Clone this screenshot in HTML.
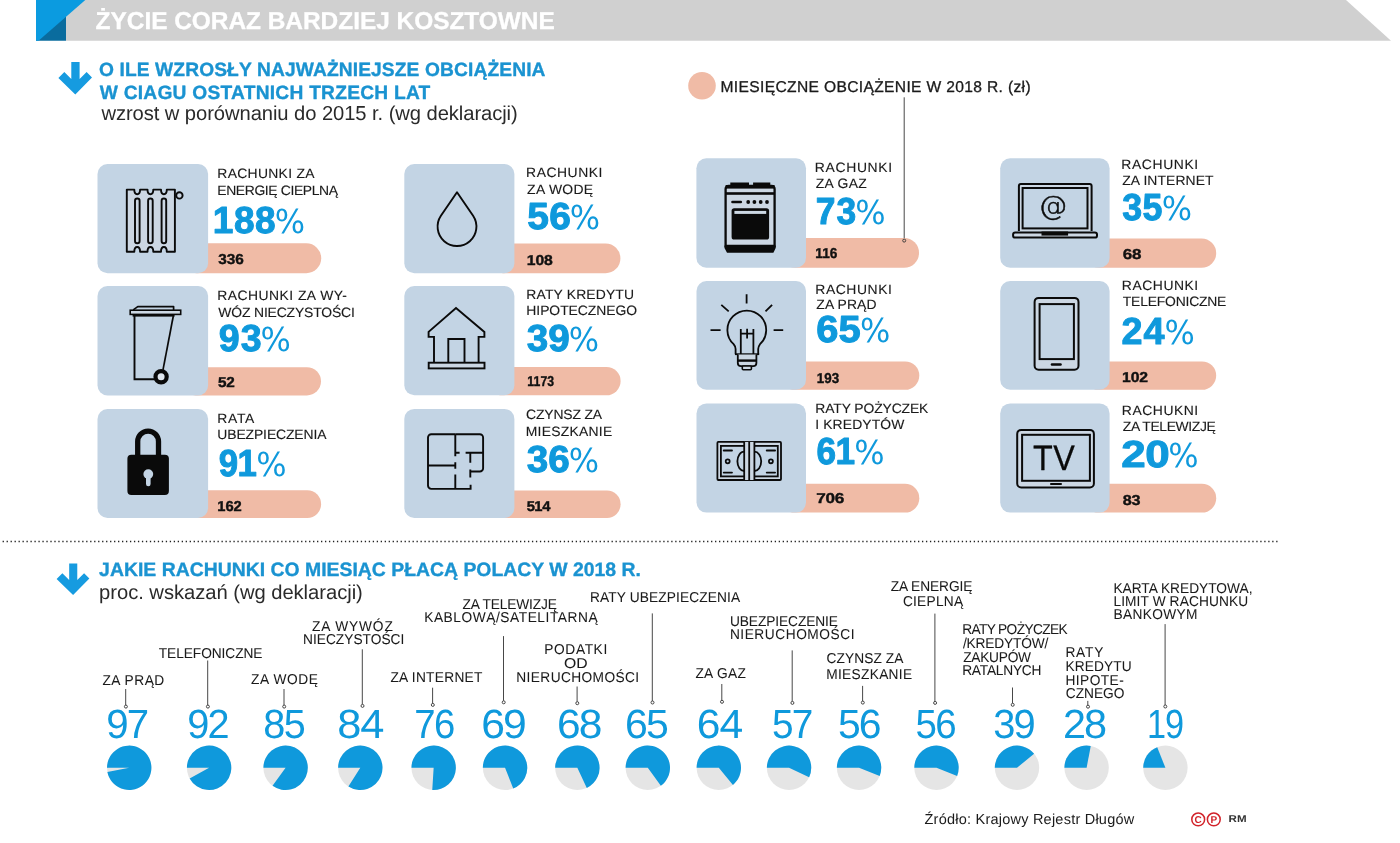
<!DOCTYPE html>
<html lang="pl"><head><meta charset="utf-8"><title>Życie coraz bardziej kosztowne</title>
<style>
html,body{margin:0;padding:0;background:#fff;}
body{width:1400px;height:843px;overflow:hidden;}
svg{display:block;}
svg text{font-family:'Liberation Sans', Arial, sans-serif;text-rendering:geometricPrecision;}
</style></head><body>
<svg width="1400" height="843" viewBox="0 0 1400 843">
<polygon points="66,0 1346,0 1391,40.8 66,40.8" fill="#d0d0d0"/>
<polygon points="66,14 66,40.8 36,40.8 36,30" fill="#0a6c9e"/>
<polygon points="36,0 85.3,0 38.5,40.8 36,40.8" fill="#0b9be0"/>
<polygon points="71.30,62.00 79.60,62.00 79.60,79.00 86.60,72.00 92.00,77.60 75.30,94.40 58.40,78.00 64.30,72.00 71.30,79.00" fill="#169be0"/>
<polygon points="69.18,563.40 77.27,563.40 77.27,579.98 84.09,573.15 89.36,578.61 73.08,594.99 56.60,579.00 62.35,573.15 69.18,579.98" fill="#169be0"/>
<circle cx="702" cy="85.7" r="13.8" fill="#f0bba6"/>
<line x1="904.2" y1="97.3" x2="904.2" y2="239.2" stroke="#333" stroke-width="0.9"/>
<rect x="181.5" y="243.3" width="139.7" height="29.9" rx="14.9" fill="#f0bba6"/>
<rect x="97.5" y="164.0" width="110.6" height="109.2" rx="10" fill="#c3d4e4"/>
<path d="M126.8,189.6 H134.3 Q134.3,194.3 137.2,194.3 Q140.1,194.3 140.1,189.6 H147.5 Q147.5,194.3 150.4,194.3 Q153.3,194.3 153.3,189.6 H161.0 Q161.0,194.3 163.9,194.3 Q166.8,194.3 166.8,189.6 H174.9 V251.7 H166.8 Q166.8,247.0 163.9,247.0 Q161.0,247.0 161.0,251.7 H153.3 Q153.3,247.0 150.4,247.0 Q147.5,247.0 147.5,251.7 H140.1 Q140.1,247.0 137.2,247.0 Q134.3,247.0 134.3,251.7 H126.8 Z" fill="#ccd7e3" stroke="#0a0a0a" stroke-width="1.9" stroke-linejoin="round"/><rect x="135.0" y="198.5" width="4.6" height="44.7" rx="2.3" fill="#ccd7e3" stroke="#0a0a0a" stroke-width="1.9"/><rect x="148.1" y="198.5" width="4.6" height="44.7" rx="2.3" fill="#ccd7e3" stroke="#0a0a0a" stroke-width="1.9"/><rect x="161.6" y="198.5" width="4.6" height="44.7" rx="2.3" fill="#ccd7e3" stroke="#0a0a0a" stroke-width="1.9"/><circle cx="179.4" cy="195.4" r="3.2" fill="#ccd7e3" stroke="#0a0a0a" stroke-width="1.9"/>
<rect x="488.3" y="243.5" width="132.1" height="29.7" rx="14.8" fill="#f0bba6"/>
<rect x="404.3" y="164.0" width="110.1" height="109.2" rx="10" fill="#c3d4e4"/>
<path d="M457,192.2 L473.1,215.8 A19.4,19.4 0 1 1 440.9,215.8 Z" fill="none" stroke="#0a0a0a" stroke-width="1.9" stroke-linejoin="round"/>
<rect x="181.5" y="367.2" width="139.5" height="28.2" rx="14.1" fill="#f0bba6"/>
<rect x="97.5" y="286.0" width="110.6" height="109.4" rx="10" fill="#c3d4e4"/>
<path d="M133.2,309.9 L137.8,306.6 H173.6 V309.9" fill="none" stroke="#0a0a0a" stroke-width="1.7" stroke-linejoin="round"/><rect x="130.2" y="310.2" width="50.5" height="4.2" fill="#ccd7e3" stroke="#0a0a0a" stroke-width="1.6"/><rect x="132.6" y="314.2" width="42" height="2.4" fill="#0a0a0a"/><path d="M134.5,316 V379.3 H154.5" fill="none" stroke="#0a0a0a" stroke-width="1.9"/><path d="M173.3,316 L163.0,369.8" fill="none" stroke="#0a0a0a" stroke-width="1.7"/><circle cx="161.1" cy="376.8" r="5.6" fill="#dfe6ee" stroke="#0a0a0a" stroke-width="4.2"/>
<rect x="488.3" y="366.9" width="132.3" height="28.4" rx="14.2" fill="#f0bba6"/>
<rect x="404.3" y="286.1" width="110.1" height="109.2" rx="10" fill="#c3d4e4"/>
<path d="M434.0,362.5 V336.9 H428.6 V331.9 L456,308.0 L484.4,331.9 V336.9 H478.6 V362.5" fill="none" stroke="#0a0a0a" stroke-width="1.9" stroke-linejoin="miter"/><rect x="428.7" y="362.7" width="55.8" height="5.7" fill="#ccd7e3" stroke="#0a0a0a" stroke-width="1.9"/><path d="M448.3,362.5 V339.0 H464.5 V362.5" fill="none" stroke="#0a0a0a" stroke-width="1.9"/>
<rect x="181.5" y="490.3" width="139.6" height="27.7" rx="13.8" fill="#f0bba6"/>
<rect x="97.5" y="409.0" width="110.6" height="109.0" rx="10" fill="#c3d4e4"/>
<path d="M137.7,455 V441.5 A10.4,10.4 0 0 1 158.5,441.5 V455" fill="none" stroke="#0a0a0a" stroke-width="5.3"/><rect x="127.4" y="454.7" width="41.5" height="40.3" rx="4" fill="#0a0a0a"/><circle cx="148.3" cy="474.1" r="4.9" fill="#c3d4e4"/><rect x="146.0" y="474" width="4.6" height="12.3" rx="2.2" fill="#c3d4e4"/>
<rect x="488.3" y="490.6" width="132.3" height="27.3" rx="13.6" fill="#f0bba6"/>
<rect x="404.3" y="408.9" width="110.1" height="109.0" rx="10" fill="#c3d4e4"/>
<path d="M455.3,434.2 H479.8 A3.3,3.3 0 0 1 483.1,437.5 V468.2 A3.3,3.3 0 0 1 479.8,471.5 H470.3" fill="none" stroke="#0a0a0a" stroke-width="1.9"/><path d="M455.3,434.2 H431.3 A3.3,3.3 0 0 0 428.0,437.5 V485.6 A3.3,3.3 0 0 0 431.3,488.9 H470.6 V484.8" fill="none" stroke="#0a0a0a" stroke-width="1.9"/><path d="M455.3,434.2 V456.2 M455.3,462.2 V468.8 M455.3,474.4 V488.9 M428,465.5 H455.3 M455.3,452.8 H459.6 M465.6,452.8 H483 M470.3,452.8 V462.8 M470.3,469.6 V477.5" fill="none" stroke="#0a0a0a" stroke-width="1.9"/>
<rect x="780.4" y="238.0" width="138.6" height="29.8" rx="14.9" fill="#f0bba6"/>
<rect x="696.4" y="158.3" width="109.6" height="109.5" rx="10" fill="#c3d4e4"/>
<path d="M731.1,185.6 V183.4 H748.2 V185.6 M753.9,185.6 V183.4 H769.5 V185.6" fill="#0a0a0a" stroke="#0a0a0a" stroke-width="1.6"/><rect x="731.1" y="183.0" width="17.1" height="3" fill="#0a0a0a"/><rect x="753.9" y="183.0" width="15.6" height="3" fill="#0a0a0a"/><path d="M725.6,189.0 A3,3 0 0 1 728.6,186.0 H771.6 A3,3 0 0 1 774.6,189.0 V246 H725.6 Z" fill="#ccd7e3" stroke="#0a0a0a" stroke-width="2.3"/><rect x="725.6" y="185.0" width="49" height="3.6" fill="#0a0a0a"/><rect x="725.6" y="192.2" width="49" height="2.6" fill="#0a0a0a"/><path d="M724.5,245.5 H775.7 V248 L773.4,252.8 H727.0 L724.5,248 Z" fill="#0a0a0a"/><line x1="732.5" y1="202" x2="740.8" y2="202" stroke="#0a0a0a" stroke-width="2.6" stroke-linecap="round"/><circle cx="748.2" cy="202" r="1.9" fill="#0a0a0a"/><circle cx="754.4" cy="202" r="1.9" fill="#0a0a0a"/><circle cx="760.7" cy="202" r="1.9" fill="#0a0a0a"/><circle cx="767.0" cy="202" r="1.9" fill="#0a0a0a"/><rect x="731.6" y="208.2" width="37.5" height="31.3" rx="2.6" fill="#0a0a0a"/><rect x="734.4" y="210.9" width="31.8" height="3.0" fill="#ccd7e3"/>
<rect x="1084.2" y="238.4" width="132.0" height="29.4" rx="14.7" fill="#f0bba6"/>
<rect x="1000.2" y="158.2" width="109.4" height="109.6" rx="10" fill="#c3d4e4"/>
<path d="M1018.9,231 V185.9 A2,2 0 0 1 1020.9,183.9 H1089.6 A2,2 0 0 1 1091.6,185.9 V231" fill="#ccd7e3" stroke="#0a0a0a" stroke-width="2"/><rect x="1022.6" y="188.0" width="64.9" height="40.4" fill="#c3d4e4" stroke="#0a0a0a" stroke-width="2"/><rect x="1013.1" y="232.4" width="83.9" height="5.2" rx="2.2" fill="#ccd7e3" stroke="#0a0a0a" stroke-width="2"/><rect x="1041.5" y="231.5" width="26.6" height="4.1" fill="#0a0a0a"/>
<rect x="780.5" y="361.4" width="138.8" height="28.4" rx="14.2" fill="#f0bba6"/>
<rect x="696.5" y="281.1" width="109.5" height="108.7" rx="10" fill="#c3d4e4"/>
<path d="M746.6,294.2 V303.6 M721.3,304.9 L728.7,311.4 M772.1,304.9 L765.5,311.4 M710.5,330.2 H720.6 M773.6,330.2 H783.2" stroke="#0a0a0a" stroke-width="1.8" fill="none"/><path d="M735.6,354.2 V349.0 Q735.6,346.6 733.6,344.2 A19.4,19.4 0 1 1 760.0,344.2 Q758.2,346.6 758.2,349.0 V354.2" fill="none" stroke="#0a0a0a" stroke-width="1.8"/><path d="M740.8,354 V329 M753.4,354 V329 M740.8,333.6 H753.4 M747.1,328.8 V338.4" stroke="#0a0a0a" stroke-width="1.8" fill="none"/><path d="M735.0,354.2 H759.2" stroke="#0a0a0a" stroke-width="1.8"/><path d="M737.8,354.5 V363 Q737.8,366.2 741,366.2 H753.2 Q756.4,366.2 756.4,363 V354.5" fill="#ccd7e3" stroke="#0a0a0a" stroke-width="1.8"/><rect x="737.8" y="359.4" width="18.6" height="2.4" fill="#0a0a0a"/><rect x="742.3" y="366" width="9.1" height="3.7" rx="1" fill="#ccd7e3" stroke="#0a0a0a" stroke-width="1.6"/>
<rect x="1084.2" y="361.4" width="132.0" height="28.4" rx="14.2" fill="#f0bba6"/>
<rect x="1000.2" y="281.1" width="109.4" height="108.7" rx="10" fill="#c3d4e4"/>
<rect x="1034.6" y="297.9" width="43.9" height="71.8" rx="4" fill="#ccd7e3" stroke="#0a0a0a" stroke-width="2"/><rect x="1039.6" y="304.1" width="34.3" height="55.0" fill="#c3d4e4" stroke="#0a0a0a" stroke-width="2"/><rect x="1050.7" y="363.3" width="11.1" height="2.5" rx="1.25" fill="#0a0a0a"/>
<rect x="780.5" y="483.8" width="138.8" height="28.8" rx="14.4" fill="#f0bba6"/>
<rect x="696.5" y="403.4" width="109.5" height="109.2" rx="10" fill="#c3d4e4"/>
<rect x="717.4" y="441.9" width="63.6" height="38.1" rx="1" fill="#ccd7e3" stroke="#0a0a0a" stroke-width="1.8"/><rect x="720.9" y="445.9" width="56.9" height="30.5" fill="#c3d4e4" stroke="#0a0a0a" stroke-width="1.8"/><rect x="744.2" y="441.9" width="10.2" height="38.1" fill="#ccd7e3" stroke="none"/><path d="M744.2,441.9 V480 M749.2,441.9 V480 M754.4,441.9 V480" stroke="#0a0a0a" stroke-width="1.8"/><path d="M744.2,451.6 A6.8,9.7 0 0 0 744.2,471 M754.4,451.6 A6.8,9.7 0 0 1 754.4,471" fill="none" stroke="#0a0a0a" stroke-width="1.8"/><circle cx="727.7" cy="461.3" r="2.0" fill="none" stroke="#0a0a0a" stroke-width="1.7"/><circle cx="770.9" cy="461.3" r="2.0" fill="none" stroke="#0a0a0a" stroke-width="1.7"/><path d="M723.7,450.5 H732.0 M723.7,472.6 H732.0 M766.7,450.5 H775.1 M766.7,472.6 H775.1" stroke="#0a0a0a" stroke-width="1.8" stroke-linecap="round"/>
<rect x="1084.2" y="483.8" width="132.0" height="28.8" rx="14.4" fill="#f0bba6"/>
<rect x="1000.2" y="403.4" width="109.4" height="109.2" rx="10" fill="#c3d4e4"/>
<rect x="1017.2" y="429.9" width="76.7" height="57.6" rx="4" fill="#ccd7e3" stroke="#0a0a0a" stroke-width="2"/><rect x="1022.1" y="434.8" width="67.8" height="46.0" fill="#c3d4e4" stroke="#0a0a0a" stroke-width="2"/><rect x="1050" y="483.1" width="12" height="1.8" rx="0.9" fill="#0a0a0a"/>
<circle cx="904.2" cy="240.6" r="1.5" fill="#f0bba6" stroke="#333" stroke-width="0.9"/>
<line x1="2.6" y1="541.5" x2="1279" y2="541.5" stroke="#222" stroke-width="1.3" stroke-dasharray="1.3 2.68"/>
<line x1="125.7" y1="689.0" x2="125.7" y2="705.1" stroke="#333" stroke-width="0.9"/>
<circle cx="125.9" cy="706.6" r="1.5" fill="#fff" stroke="#333" stroke-width="0.9"/>
<circle cx="129.2" cy="767.8" r="22.2" fill="#e5e5e5"/><path d="M129.2,767.8 L107.00,767.80 A22.2,22.2 0 1 1 107.39,771.96 Z" fill="#0f99dc"/>
<line x1="207.7" y1="660.5" x2="207.7" y2="705.1" stroke="#333" stroke-width="0.9"/>
<circle cx="207.9" cy="706.6" r="1.5" fill="#fff" stroke="#333" stroke-width="0.9"/>
<circle cx="209.1" cy="767.8" r="22.2" fill="#e5e5e5"/><path d="M209.1,767.8 L186.90,767.80 A22.2,22.2 0 1 1 189.65,778.49 Z" fill="#0f99dc"/>
<line x1="284.0" y1="689.0" x2="284.0" y2="705.1" stroke="#333" stroke-width="0.9"/>
<circle cx="284.2" cy="706.6" r="1.5" fill="#fff" stroke="#333" stroke-width="0.9"/>
<circle cx="285.6" cy="767.8" r="22.2" fill="#e5e5e5"/><path d="M285.6,767.8 L263.40,767.80 A22.2,22.2 0 1 1 272.55,785.76 Z" fill="#0f99dc"/>
<line x1="362.3" y1="649.3" x2="362.3" y2="704.4" stroke="#333" stroke-width="0.9"/>
<circle cx="362.5" cy="705.9" r="1.5" fill="#fff" stroke="#333" stroke-width="0.9"/>
<circle cx="360.3" cy="767.8" r="22.2" fill="#e5e5e5"/><path d="M360.3,767.8 L338.10,767.80 A22.2,22.2 0 1 1 348.40,786.54 Z" fill="#0f99dc"/>
<line x1="432.6" y1="687.7" x2="432.6" y2="703.4" stroke="#333" stroke-width="0.9"/>
<circle cx="432.8" cy="704.9" r="1.5" fill="#fff" stroke="#333" stroke-width="0.9"/>
<circle cx="433.65" cy="767.8" r="22.2" fill="#e5e5e5"/><path d="M433.65,767.8 L411.45,767.80 A22.2,22.2 0 1 1 432.26,789.96 Z" fill="#0f99dc"/>
<line x1="503.5" y1="636.1" x2="503.5" y2="700.8" stroke="#333" stroke-width="0.9"/>
<circle cx="503.7" cy="702.3" r="1.5" fill="#fff" stroke="#333" stroke-width="0.9"/>
<circle cx="505.05" cy="767.8" r="22.2" fill="#e5e5e5"/><path d="M505.05,767.8 L482.85,767.80 A22.2,22.2 0 1 1 513.22,788.44 Z" fill="#0f99dc"/>
<line x1="577.1" y1="686.5" x2="577.1" y2="701.7" stroke="#333" stroke-width="0.9"/>
<circle cx="577.3" cy="703.2" r="1.5" fill="#fff" stroke="#333" stroke-width="0.9"/>
<circle cx="577.35" cy="767.8" r="22.2" fill="#e5e5e5"/><path d="M577.35,767.8 L555.15,767.80 A22.2,22.2 0 1 1 586.80,787.89 Z" fill="#0f99dc"/>
<line x1="652.3" y1="613.4" x2="652.3" y2="701.0" stroke="#333" stroke-width="0.9"/>
<circle cx="652.5" cy="702.5" r="1.5" fill="#fff" stroke="#333" stroke-width="0.9"/>
<circle cx="647.8" cy="767.8" r="22.2" fill="#e5e5e5"/><path d="M647.8,767.8 L625.60,767.80 A22.2,22.2 0 1 1 660.85,785.76 Z" fill="#0f99dc"/>
<line x1="721.8" y1="684.0" x2="721.8" y2="700.3" stroke="#333" stroke-width="0.9"/>
<circle cx="722.0" cy="701.8" r="1.5" fill="#fff" stroke="#333" stroke-width="0.9"/>
<circle cx="718.8" cy="767.8" r="22.2" fill="#e5e5e5"/><path d="M718.8,767.8 L696.60,767.80 A22.2,22.2 0 1 1 732.95,784.91 Z" fill="#0f99dc"/>
<line x1="792.2" y1="650.4" x2="792.2" y2="701.4" stroke="#333" stroke-width="0.9"/>
<circle cx="792.4" cy="702.9" r="1.5" fill="#fff" stroke="#333" stroke-width="0.9"/>
<circle cx="789.05" cy="767.8" r="22.2" fill="#e5e5e5"/><path d="M789.05,767.8 L766.85,767.80 A22.2,22.2 0 1 1 809.14,777.25 Z" fill="#0f99dc"/>
<line x1="862.6" y1="685.9" x2="862.6" y2="701.1" stroke="#333" stroke-width="0.9"/>
<circle cx="862.8" cy="702.6" r="1.5" fill="#fff" stroke="#333" stroke-width="0.9"/>
<circle cx="859.05" cy="767.8" r="22.2" fill="#e5e5e5"/><path d="M859.05,767.8 L836.85,767.80 A22.2,22.2 0 1 1 879.69,775.97 Z" fill="#0f99dc"/>
<line x1="934.9" y1="613.6" x2="934.9" y2="701.4" stroke="#333" stroke-width="0.9"/>
<circle cx="935.1" cy="702.9" r="1.5" fill="#fff" stroke="#333" stroke-width="0.9"/>
<circle cx="936.5" cy="767.8" r="22.2" fill="#e5e5e5"/><path d="M936.5,767.8 L914.30,767.80 A22.2,22.2 0 1 1 957.14,775.97 Z" fill="#0f99dc"/>
<line x1="1012.5" y1="687.5" x2="1012.5" y2="703.3" stroke="#333" stroke-width="0.9"/>
<circle cx="1012.7" cy="704.8" r="1.5" fill="#fff" stroke="#333" stroke-width="0.9"/>
<circle cx="1017.0" cy="767.8" r="22.2" fill="#e5e5e5"/><path d="M1017.0,767.8 L994.80,767.80 A22.2,22.2 0 0 1 1034.11,753.65 Z" fill="#0f99dc"/>
<line x1="1087.8" y1="700.9" x2="1087.8" y2="705.2" stroke="#333" stroke-width="0.9"/>
<circle cx="1088.0" cy="706.7" r="1.5" fill="#fff" stroke="#333" stroke-width="0.9"/>
<circle cx="1086.6" cy="767.8" r="22.2" fill="#e5e5e5"/><path d="M1086.6,767.8 L1064.40,767.80 A22.2,22.2 0 0 1 1090.76,745.99 Z" fill="#0f99dc"/>
<line x1="1165.1" y1="624.1" x2="1165.1" y2="705.0" stroke="#333" stroke-width="0.9"/>
<circle cx="1165.3" cy="706.5" r="1.5" fill="#fff" stroke="#333" stroke-width="0.9"/>
<circle cx="1165.4" cy="767.8" r="22.2" fill="#e5e5e5"/><path d="M1165.4,767.8 L1143.20,767.80 A22.2,22.2 0 0 1 1157.23,747.16 Z" fill="#0f99dc"/>
<circle cx="1198.2" cy="819.4" r="6.4" fill="none" stroke="#d2232a" stroke-width="1.5"/>
<circle cx="1213.8" cy="819.4" r="6.4" fill="none" stroke="#d2232a" stroke-width="1.5"/>
<text x="1194.6" y="823.2" font-size="10" font-weight="700" fill="#d2232a">C</text>
<text x="1210.6" y="823.2" font-size="10" font-weight="700" fill="#d2232a">P</text>
<text x="95.60" y="28.60" font-size="24.46" font-weight="700" fill="#ffffff" stroke="#ffffff" stroke-width="0.3" stroke-linejoin="round" letter-spacing="-0.032">ŻYCIE CORAZ BARDZIEJ KOSZTOWNE</text>
<text x="98.94" y="75.60" font-size="19.20" font-weight="700" fill="#1a93d1" stroke="#1a93d1" stroke-width="0.35" stroke-linejoin="round" letter-spacing="0.121">O ILE WZROSŁY NAJWAŻNIEJSZE OBCIĄŻENIA</text>
<text x="99.73" y="99.20" font-size="19.20" font-weight="700" fill="#1a93d1" stroke="#1a93d1" stroke-width="0.35" stroke-linejoin="round" letter-spacing="0.245">W CIAGU OSTATNICH TRZECH LAT</text>
<text x="101.40" y="120.20" font-size="20.20" font-weight="400" fill="#2a2a2a" letter-spacing="-0.073">wzrost w porównaniu do 2015 r. (wg deklaracji)</text>
<text x="720.50" y="92.40" font-size="15.60" font-weight="400" fill="#1a1a1a" stroke="#1a1a1a" stroke-width="0.3" stroke-linejoin="round" letter-spacing="0.344">MIESIĘCZNE OBCIĄŻENIE W 2018 R. (zł)</text>
<text transform="translate(217.30,178.00) scale(1.0300,1)" font-size="13.50" font-weight="400" fill="#1a1a1a" stroke="#1a1a1a" stroke-width="0.12" stroke-linejoin="round" letter-spacing="0.292">RACHUNKI ZA</text>
<text transform="translate(217.30,194.50) scale(1.0300,1)" font-size="13.50" font-weight="400" fill="#1a1a1a" stroke="#1a1a1a" stroke-width="0.12" stroke-linejoin="round" letter-spacing="-0.365">ENERGIĘ CIEPLNĄ</text>
<text transform="scale(0.9827,1)" x="216.42 238.00 259.41" y="232.50" font-size="37.70" font-weight="700" fill="#0f99dc" stroke="#0f99dc" stroke-width="1.0" stroke-linejoin="round">188</text>
<text transform="translate(274.66,232.50) scale(0.9682,1)" style="font-family:'DejaVu Sans', sans-serif" font-size="33.00" font-weight="400" fill="#0f99dc">%</text>
<text transform="scale(1.0714,1)" x="203.81 211.65 219.49" y="264.20" font-size="14.30" font-weight="700" fill="#111111" stroke="#111111" stroke-width="0.4" stroke-linejoin="round">336</text>
<text transform="translate(526.10,177.20) scale(1.0300,1)" font-size="13.50" font-weight="400" fill="#1a1a1a" stroke="#1a1a1a" stroke-width="0.12" stroke-linejoin="round" letter-spacing="0.511">RACHUNKI</text>
<text transform="translate(527.10,193.70) scale(1.0300,1)" font-size="13.50" font-weight="400" fill="#1a1a1a" stroke="#1a1a1a" stroke-width="0.12" stroke-linejoin="round" letter-spacing="0.308">ZA WODĘ</text>
<text transform="scale(1.0345,1)" x="509.61 530.88" y="228.90" font-size="37.70" font-weight="700" fill="#0f99dc" stroke="#0f99dc" stroke-width="1.0" stroke-linejoin="round">56</text>
<text transform="translate(569.76,228.90) scale(0.9682,1)" style="font-family:'DejaVu Sans', sans-serif" font-size="33.00" font-weight="400" fill="#0f99dc">%</text>
<text transform="scale(1.1002,1)" x="478.88 486.70 494.52" y="265.40" font-size="14.30" font-weight="700" fill="#111111" stroke="#111111" stroke-width="0.4" stroke-linejoin="round">108</text>
<text transform="translate(217.30,300.30) scale(1.0300,1)" font-size="13.50" font-weight="400" fill="#1a1a1a" stroke="#1a1a1a" stroke-width="0.12" stroke-linejoin="round" letter-spacing="0.446">RACHUNKI ZA WY-</text>
<text transform="translate(218.30,316.60) scale(1.0300,1)" font-size="13.50" font-weight="400" fill="#1a1a1a" stroke="#1a1a1a" stroke-width="0.12" stroke-linejoin="round" letter-spacing="-0.148">WÓZ NIECZYSTOŚCI</text>
<text transform="scale(0.9966,1)" x="219.51 241.46" y="351.10" font-size="37.70" font-weight="700" fill="#0f99dc" stroke="#0f99dc" stroke-width="1.0" stroke-linejoin="round">93</text>
<text transform="translate(260.46,351.10) scale(0.9682,1)" style="font-family:'DejaVu Sans', sans-serif" font-size="33.00" font-weight="400" fill="#0f99dc">%</text>
<text transform="scale(1.0714,1)" x="203.43 211.27" y="387.40" font-size="14.30" font-weight="700" fill="#111111" stroke="#111111" stroke-width="0.4" stroke-linejoin="round">52</text>
<text transform="translate(526.30,298.80) scale(1.0300,1)" font-size="13.50" font-weight="400" fill="#1a1a1a" stroke="#1a1a1a" stroke-width="0.12" stroke-linejoin="round" letter-spacing="0.145">RATY KREDYTU</text>
<text transform="translate(526.30,314.90) scale(1.0300,1)" font-size="13.50" font-weight="400" fill="#1a1a1a" stroke="#1a1a1a" stroke-width="0.12" stroke-linejoin="round" letter-spacing="-0.038">HIPOTECZNEGO</text>
<text transform="scale(1.0261,1)" x="513.28 534.29" y="351.10" font-size="37.70" font-weight="700" fill="#0f99dc" stroke="#0f99dc" stroke-width="1.0" stroke-linejoin="round">39</text>
<text transform="translate(568.66,351.10) scale(0.9682,1)" style="font-family:'DejaVu Sans', sans-serif" font-size="33.00" font-weight="400" fill="#0f99dc">%</text>
<text transform="scale(0.8532,1)" x="618.03 625.44 633.50 641.55" y="386.40" font-size="14.30" font-weight="700" fill="#111111" stroke="#111111" stroke-width="0.4" stroke-linejoin="round">1173</text>
<text transform="translate(217.30,423.00) scale(1.0300,1)" font-size="13.50" font-weight="400" fill="#1a1a1a" stroke="#1a1a1a" stroke-width="0.12" stroke-linejoin="round" letter-spacing="0.657">RATA</text>
<text transform="translate(217.30,439.40) scale(1.0300,1)" font-size="13.50" font-weight="400" fill="#1a1a1a" stroke="#1a1a1a" stroke-width="0.12" stroke-linejoin="round" letter-spacing="-0.104">UBEZPIECZENIA</text>
<text transform="scale(0.9238,1)" x="236.69 257.00" y="475.70" font-size="37.70" font-weight="700" fill="#0f99dc" stroke="#0f99dc" stroke-width="1.0" stroke-linejoin="round">91</text>
<text transform="translate(256.16,475.70) scale(0.9682,1)" style="font-family:'DejaVu Sans', sans-serif" font-size="33.00" font-weight="400" fill="#0f99dc">%</text>
<text transform="scale(1.0314,1)" x="210.71 218.58 226.46" y="511.10" font-size="14.30" font-weight="700" fill="#111111" stroke="#111111" stroke-width="0.4" stroke-linejoin="round">162</text>
<text transform="translate(526.06,419.10) scale(1.0300,1)" font-size="13.50" font-weight="400" fill="#1a1a1a" stroke="#1a1a1a" stroke-width="0.12" stroke-linejoin="round" letter-spacing="-0.155">CZYNSZ ZA</text>
<text transform="translate(525.70,435.50) scale(1.0300,1)" font-size="13.50" font-weight="400" fill="#1a1a1a" stroke="#1a1a1a" stroke-width="0.12" stroke-linejoin="round" letter-spacing="0.248">MIESZKANIE</text>
<text transform="scale(1.0275,1)" x="512.57 533.53" y="472.10" font-size="37.70" font-weight="700" fill="#0f99dc" stroke="#0f99dc" stroke-width="1.0" stroke-linejoin="round">36</text>
<text transform="translate(568.66,472.10) scale(0.9682,1)" style="font-family:'DejaVu Sans', sans-serif" font-size="33.00" font-weight="400" fill="#0f99dc">%</text>
<text transform="scale(1.0329,1)" x="509.90 517.13 525.00" y="511.00" font-size="14.30" font-weight="700" fill="#111111" stroke="#111111" stroke-width="0.4" stroke-linejoin="round">514</text>
<text transform="translate(814.80,171.80) scale(1.0300,1)" font-size="13.50" font-weight="400" fill="#1a1a1a" stroke="#1a1a1a" stroke-width="0.12" stroke-linejoin="round" letter-spacing="0.652">RACHUNKI</text>
<text transform="translate(815.80,188.10) scale(1.0300,1)" font-size="13.50" font-weight="400" fill="#1a1a1a" stroke="#1a1a1a" stroke-width="0.12" stroke-linejoin="round" letter-spacing="0.279">ZA GAZ</text>
<text transform="scale(0.9397,1)" x="867.99 890.08" y="224.20" font-size="37.70" font-weight="700" fill="#0f99dc" stroke="#0f99dc" stroke-width="1.0" stroke-linejoin="round">73</text>
<text transform="translate(855.16,224.20) scale(0.9682,1)" style="font-family:'DejaVu Sans', sans-serif" font-size="33.00" font-weight="400" fill="#0f99dc">%</text>
<text transform="scale(0.9533,1)" x="855.18 862.48 870.42" y="258.00" font-size="14.30" font-weight="700" fill="#111111" stroke="#111111" stroke-width="0.4" stroke-linejoin="round">116</text>
<text transform="translate(1121.30,168.80) scale(1.0300,1)" font-size="13.50" font-weight="400" fill="#1a1a1a" stroke="#1a1a1a" stroke-width="0.12" stroke-linejoin="round" letter-spacing="0.594">RACHUNKI</text>
<text transform="translate(1122.30,185.00) scale(1.0300,1)" font-size="13.50" font-weight="400" fill="#1a1a1a" stroke="#1a1a1a" stroke-width="0.12" stroke-linejoin="round" letter-spacing="0.077">ZA INTERNET</text>
<text transform="scale(0.9490,1)" x="1182.67 1203.99" y="220.20" font-size="37.70" font-weight="700" fill="#0f99dc" stroke="#0f99dc" stroke-width="1.0" stroke-linejoin="round">35</text>
<text transform="translate(1161.76,220.20) scale(0.9682,1)" style="font-family:'DejaVu Sans', sans-serif" font-size="33.00" font-weight="400" fill="#0f99dc">%</text>
<text transform="scale(1.1857,1)" x="946.86 954.62" y="258.80" font-size="14.30" font-weight="700" fill="#111111" stroke="#111111" stroke-width="0.4" stroke-linejoin="round">68</text>
<text transform="translate(815.30,293.80) scale(1.0300,1)" font-size="13.50" font-weight="400" fill="#1a1a1a" stroke="#1a1a1a" stroke-width="0.12" stroke-linejoin="round" letter-spacing="0.552">RACHUNKI</text>
<text transform="translate(816.30,309.40) scale(1.0300,1)" font-size="13.50" font-weight="400" fill="#1a1a1a" stroke="#1a1a1a" stroke-width="0.12" stroke-linejoin="round" letter-spacing="0.113">ZA PRĄD</text>
<text transform="scale(1.0590,1)" x="770.85 791.86" y="342.00" font-size="37.70" font-weight="700" fill="#0f99dc" stroke="#0f99dc" stroke-width="1.0" stroke-linejoin="round">65</text>
<text transform="translate(859.96,342.00) scale(0.9682,1)" style="font-family:'DejaVu Sans', sans-serif" font-size="33.00" font-weight="400" fill="#0f99dc">%</text>
<text transform="scale(0.9332,1)" x="875.23 883.20 891.16" y="382.90" font-size="14.30" font-weight="700" fill="#111111" stroke="#111111" stroke-width="0.4" stroke-linejoin="round">193</text>
<text transform="translate(1121.80,290.40) scale(1.0300,1)" font-size="13.50" font-weight="400" fill="#1a1a1a" stroke="#1a1a1a" stroke-width="0.12" stroke-linejoin="round" letter-spacing="0.528">RACHUNKI</text>
<text transform="translate(1122.80,306.20) scale(1.0300,1)" font-size="13.50" font-weight="400" fill="#1a1a1a" stroke="#1a1a1a" stroke-width="0.12" stroke-linejoin="round" letter-spacing="-0.198">TELEFONICZNE</text>
<text transform="scale(1.0016,1)" x="1119.72 1141.61" y="343.90" font-size="37.70" font-weight="700" fill="#0f99dc" stroke="#0f99dc" stroke-width="1.0" stroke-linejoin="round">24</text>
<text transform="translate(1164.56,343.90) scale(0.9682,1)" style="font-family:'DejaVu Sans', sans-serif" font-size="33.00" font-weight="400" fill="#0f99dc">%</text>
<text transform="scale(1.1002,1)" x="1019.90 1027.72 1035.54" y="382.40" font-size="14.30" font-weight="700" fill="#111111" stroke="#111111" stroke-width="0.4" stroke-linejoin="round">102</text>
<text transform="translate(815.30,412.70) scale(1.0300,1)" font-size="13.50" font-weight="400" fill="#1a1a1a" stroke="#1a1a1a" stroke-width="0.12" stroke-linejoin="round" letter-spacing="-0.123">RATY POŻYCZEK</text>
<text transform="translate(815.30,428.60) scale(1.0300,1)" font-size="13.50" font-weight="400" fill="#1a1a1a" stroke="#1a1a1a" stroke-width="0.12" stroke-linejoin="round" letter-spacing="0.101">I KREDYTÓW</text>
<text transform="scale(0.9335,1)" x="874.62 894.90" y="464.30" font-size="37.70" font-weight="700" fill="#0f99dc" stroke="#0f99dc" stroke-width="1.0" stroke-linejoin="round">61</text>
<text transform="translate(854.36,464.30) scale(0.9682,1)" style="font-family:'DejaVu Sans', sans-serif" font-size="33.00" font-weight="400" fill="#0f99dc">%</text>
<text transform="scale(1.2000,1)" x="680.17 687.92 695.67" y="503.30" font-size="14.30" font-weight="700" fill="#111111" stroke="#111111" stroke-width="0.4" stroke-linejoin="round">706</text>
<text transform="translate(1121.80,415.10) scale(1.0300,1)" font-size="13.50" font-weight="400" fill="#1a1a1a" stroke="#1a1a1a" stroke-width="0.12" stroke-linejoin="round" letter-spacing="0.528">RACHUKNI</text>
<text transform="translate(1122.80,431.20) scale(1.0300,1)" font-size="13.50" font-weight="400" fill="#1a1a1a" stroke="#1a1a1a" stroke-width="0.12" stroke-linejoin="round" letter-spacing="-0.361">ZA TELEWIZJĘ</text>
<text transform="scale(1.1661,1)" x="961.54 982.02" y="466.50" font-size="37.70" font-weight="700" fill="#0f99dc" stroke="#0f99dc" stroke-width="1.0" stroke-linejoin="round">20</text>
<text transform="translate(1168.26,466.50) scale(0.9682,1)" style="font-family:'DejaVu Sans', sans-serif" font-size="33.00" font-weight="400" fill="#0f99dc">%</text>
<text transform="scale(1.1286,1)" x="994.83 1002.63" y="504.80" font-size="14.30" font-weight="700" fill="#111111" stroke="#111111" stroke-width="0.4" stroke-linejoin="round">83</text>
<text x="99.10" y="576.40" font-size="19.40" font-weight="700" fill="#1a93d1" stroke="#1a93d1" stroke-width="0.35" stroke-linejoin="round" letter-spacing="0.006">JAKIE RACHUNKI CO MIESIĄC PŁACĄ POLACY W 2018 R.</text>
<text x="99.10" y="599.20" font-size="20.20" font-weight="400" fill="#2a2a2a" letter-spacing="-0.038">proc. wskazań (wg deklaracji)</text>
<text transform="translate(102.40,685.20) scale(0.9600,1)" font-size="14.30" font-weight="400" fill="#1a1a1a" stroke="#1a1a1a" stroke-width="0.05" stroke-linejoin="round" letter-spacing="0.542">ZA PRĄD</text>
<text transform="scale(0.9881,1)" x="107.63 128.37" y="737.60" font-size="40.70" font-weight="400" fill="#0f99dc">97</text>
<text transform="translate(158.80,658.00) scale(0.9600,1)" font-size="14.30" font-weight="400" fill="#1a1a1a" stroke="#1a1a1a" stroke-width="0.05" stroke-linejoin="round" letter-spacing="-0.080">TELEFONICZNE</text>
<text transform="scale(0.9770,1)" x="191.69 212.45" y="737.60" font-size="40.70" font-weight="400" fill="#0f99dc">92</text>
<text transform="translate(250.90,683.70) scale(0.9600,1)" font-size="14.30" font-weight="400" fill="#1a1a1a" stroke="#1a1a1a" stroke-width="0.05" stroke-linejoin="round" letter-spacing="0.661">ZA WODĘ</text>
<text transform="scale(0.9735,1)" x="270.52 291.38" y="737.60" font-size="40.70" font-weight="400" fill="#0f99dc">85</text>
<text transform="translate(311.90,631.10) scale(0.9600,1)" font-size="14.30" font-weight="400" fill="#1a1a1a" stroke="#1a1a1a" stroke-width="0.05" stroke-linejoin="round" letter-spacing="0.916">ZA WYWÓZ</text>
<text transform="translate(303.00,644.30) scale(0.9600,1)" font-size="14.30" font-weight="400" fill="#1a1a1a" stroke="#1a1a1a" stroke-width="0.05" stroke-linejoin="round" letter-spacing="0.011">NIECZYSTOŚCI</text>
<text transform="scale(1.0671,1)" x="316.10 337.69" y="737.60" font-size="40.70" font-weight="400" fill="#0f99dc">84</text>
<text transform="translate(390.40,682.20) scale(0.9600,1)" font-size="14.30" font-weight="400" fill="#1a1a1a" stroke="#1a1a1a" stroke-width="0.05" stroke-linejoin="round" letter-spacing="0.291">ZA INTERNET</text>
<text transform="scale(0.9417,1)" x="439.91 460.77" y="737.60" font-size="40.70" font-weight="400" fill="#0f99dc">76</text>
<text transform="translate(462.60,608.70) scale(0.9600,1)" font-size="14.30" font-weight="400" fill="#1a1a1a" stroke="#1a1a1a" stroke-width="0.05" stroke-linejoin="round" letter-spacing="-0.157">ZA TELEWIZJĘ</text>
<text transform="translate(424.20,622.30) scale(0.9600,1)" font-size="14.30" font-weight="400" fill="#1a1a1a" stroke="#1a1a1a" stroke-width="0.05" stroke-linejoin="round" letter-spacing="0.576">KABLOWĄ/SATELITARNĄ</text>
<text transform="scale(1.0492,1)" x="458.71 479.31" y="737.60" font-size="40.70" font-weight="400" fill="#0f99dc">69</text>
<text transform="translate(544.30,653.80) scale(0.9600,1)" font-size="14.30" font-weight="400" fill="#1a1a1a" stroke="#1a1a1a" stroke-width="0.05" stroke-linejoin="round" letter-spacing="0.638">PODATKI</text>
<text transform="translate(563.95,667.50) scale(1.1014,1)" font-size="14.30" font-weight="400" fill="#1a1a1a" stroke="#1a1a1a" stroke-width="0.05" stroke-linejoin="round">OD</text>
<text transform="translate(516.30,681.50) scale(0.9600,1)" font-size="14.30" font-weight="400" fill="#1a1a1a" stroke="#1a1a1a" stroke-width="0.05" stroke-linejoin="round" letter-spacing="0.406">NIERUCHOMOŚCI</text>
<text transform="scale(1.0449,1)" x="533.06 553.83" y="737.60" font-size="40.70" font-weight="400" fill="#0f99dc">68</text>
<text transform="translate(590.00,601.90) scale(0.9600,1)" font-size="14.30" font-weight="400" fill="#1a1a1a" stroke="#1a1a1a" stroke-width="0.05" stroke-linejoin="round" letter-spacing="0.117">RATY UBEZPIECZENIA</text>
<text transform="scale(1.0087,1)" x="619.59 640.35" y="737.60" font-size="40.70" font-weight="400" fill="#0f99dc">65</text>
<text transform="translate(695.40,677.70) scale(0.9600,1)" font-size="14.30" font-weight="400" fill="#1a1a1a" stroke="#1a1a1a" stroke-width="0.05" stroke-linejoin="round" letter-spacing="0.330">ZA GAZ</text>
<text transform="scale(1.0482,1)" x="664.76 686.40" y="737.60" font-size="40.70" font-weight="400" fill="#0f99dc">64</text>
<text transform="translate(729.90,625.90) scale(0.9600,1)" font-size="14.30" font-weight="400" fill="#1a1a1a" stroke="#1a1a1a" stroke-width="0.05" stroke-linejoin="round" letter-spacing="-0.083">UBEZPIECZENIE</text>
<text transform="translate(729.90,638.70) scale(0.9600,1)" font-size="14.30" font-weight="400" fill="#1a1a1a" stroke="#1a1a1a" stroke-width="0.05" stroke-linejoin="round" letter-spacing="0.554">NIERUCHOMOŚCI</text>
<text transform="scale(0.9533,1)" x="809.74 830.57" y="737.60" font-size="40.70" font-weight="400" fill="#0f99dc">57</text>
<text transform="translate(826.50,662.70) scale(0.9600,1)" font-size="14.30" font-weight="400" fill="#1a1a1a" stroke="#1a1a1a" stroke-width="0.05" stroke-linejoin="round" letter-spacing="0.078">CZYNSZ ZA</text>
<text transform="translate(826.20,679.10) scale(0.9600,1)" font-size="14.30" font-weight="400" fill="#1a1a1a" stroke="#1a1a1a" stroke-width="0.05" stroke-linejoin="round" letter-spacing="0.319">MIESZKANIE</text>
<text transform="scale(1.0059,1)" x="833.14 853.82" y="737.60" font-size="40.70" font-weight="400" fill="#0f99dc">56</text>
<text transform="translate(890.80,590.50) scale(0.9600,1)" font-size="14.30" font-weight="400" fill="#1a1a1a" stroke="#1a1a1a" stroke-width="0.05" stroke-linejoin="round" letter-spacing="-0.094">ZA ENERGIĘ</text>
<text transform="translate(902.90,606.00) scale(0.9600,1)" font-size="14.30" font-weight="400" fill="#1a1a1a" stroke="#1a1a1a" stroke-width="0.05" stroke-linejoin="round" letter-spacing="0.251">CIEPLNĄ</text>
<text transform="scale(0.9450,1)" x="968.74 989.60" y="737.60" font-size="40.70" font-weight="400" fill="#0f99dc">56</text>
<text transform="translate(962.20,634.30) scale(0.9600,1)" font-size="14.30" font-weight="400" fill="#1a1a1a" stroke="#1a1a1a" stroke-width="0.05" stroke-linejoin="round" letter-spacing="-0.675">RATY POŻYCZEK</text>
<text transform="translate(962.90,648.20) scale(0.9600,1)" font-size="14.30" font-weight="400" fill="#1a1a1a" stroke="#1a1a1a" stroke-width="0.05" stroke-linejoin="round" letter-spacing="-0.186">/KREDYTÓW/</text>
<text transform="translate(963.20,661.50) scale(0.9600,1)" font-size="14.30" font-weight="400" fill="#1a1a1a" stroke="#1a1a1a" stroke-width="0.05" stroke-linejoin="round" letter-spacing="-0.275">ZAKUPÓW</text>
<text transform="translate(962.20,675.40) scale(0.9600,1)" font-size="14.30" font-weight="400" fill="#1a1a1a" stroke="#1a1a1a" stroke-width="0.05" stroke-linejoin="round" letter-spacing="-0.247">RATALNYCH</text>
<text transform="scale(0.9792,1)" x="1014.29 1035.08" y="737.60" font-size="40.70" font-weight="400" fill="#0f99dc">39</text>
<text transform="translate(1065.40,657.20) scale(0.9600,1)" font-size="14.30" font-weight="400" fill="#1a1a1a" stroke="#1a1a1a" stroke-width="0.05" stroke-linejoin="round" letter-spacing="0.829">RATY</text>
<text transform="translate(1065.40,670.90) scale(0.9600,1)" font-size="14.30" font-weight="400" fill="#1a1a1a" stroke="#1a1a1a" stroke-width="0.05" stroke-linejoin="round" letter-spacing="0.114">KREDYTU</text>
<text transform="translate(1065.40,685.10) scale(0.9600,1)" font-size="14.30" font-weight="400" fill="#1a1a1a" stroke="#1a1a1a" stroke-width="0.05" stroke-linejoin="round" letter-spacing="0.469">HIPOTE-</text>
<text transform="translate(1065.70,697.90) scale(0.9600,1)" font-size="14.30" font-weight="400" fill="#1a1a1a" stroke="#1a1a1a" stroke-width="0.05" stroke-linejoin="round" letter-spacing="0.015">CZNEGO</text>
<text transform="scale(1.0172,1)" x="1044.95 1065.78" y="737.60" font-size="40.70" font-weight="400" fill="#0f99dc">28</text>
<text transform="translate(1113.40,593.10) scale(0.9600,1)" font-size="14.30" font-weight="400" fill="#1a1a1a" stroke="#1a1a1a" stroke-width="0.05" stroke-linejoin="round">KARTA KREDYTOWA,</text>
<text transform="translate(1113.40,606.40) scale(0.9600,1)" font-size="14.30" font-weight="400" fill="#1a1a1a" stroke="#1a1a1a" stroke-width="0.05" stroke-linejoin="round" letter-spacing="0.105">LIMIT W RACHUNKU</text>
<text transform="translate(1113.40,619.30) scale(0.9600,1)" font-size="14.30" font-weight="400" fill="#1a1a1a" stroke="#1a1a1a" stroke-width="0.05" stroke-linejoin="round" letter-spacing="0.352">BANKOWYM</text>
<text transform="scale(0.8422,1)" x="1361.98 1383.21" y="737.60" font-size="40.70" font-weight="400" fill="#0f99dc">19</text>
<text x="924.50" y="824.30" font-size="14.50" font-weight="400" fill="#1a1a1a" letter-spacing="0.229">Źródło: Krajowy Rejestr Długów</text>
<text transform="translate(1228.54,822.30) scale(1.1646,1)" font-size="9.93" font-weight="700" fill="#333333">RM</text>
<text transform="scale(0.9157,1)" x="1128.16 1150.12" y="469.80" font-size="35.25" font-weight="400" fill="#0a0a0a" stroke="#0a0a0a" stroke-width="0.3" stroke-linejoin="round">TV</text>
<text transform="translate(1038.60,215.00) scale(1.0682,1)" style="font-family:'DejaVu Sans', sans-serif" font-size="27.00" font-weight="200" fill="#0a0a0a" stroke="#0a0a0a" stroke-width="0.45" stroke-linejoin="round">@</text>
</svg>
</body></html>
